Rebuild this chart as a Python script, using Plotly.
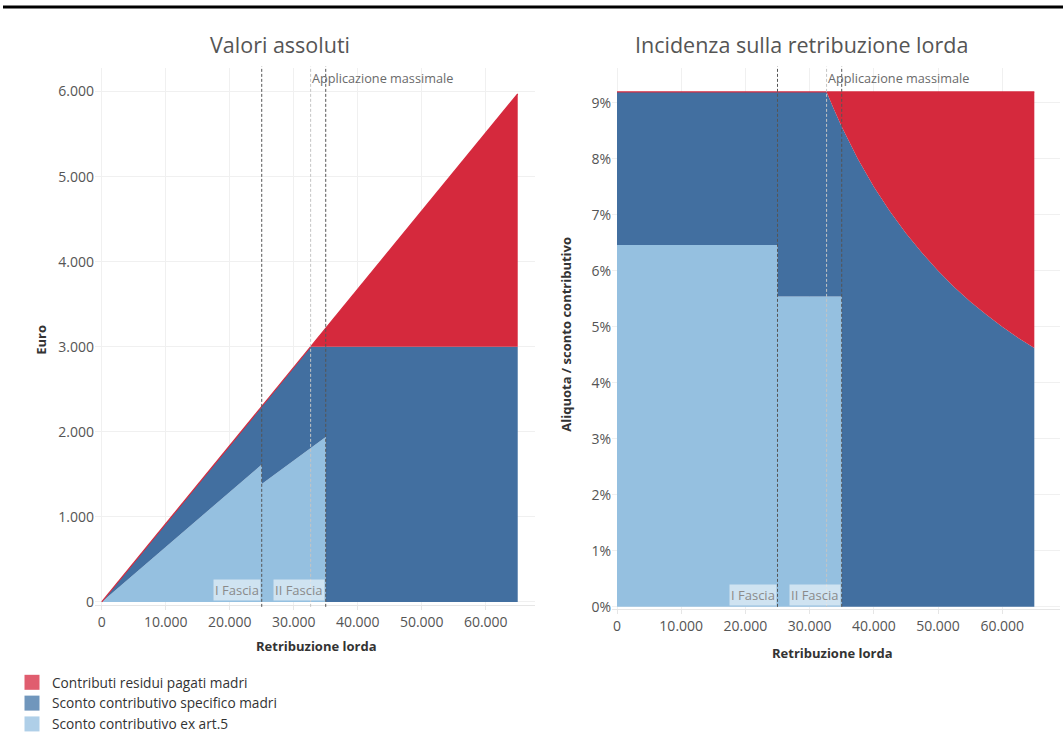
import numpy as np
import plotly.graph_objects as go

# soglie (retribuzione lorda)
FASCE = [25000, 35000]
MASSIMALE = 32644

# Valori assoluti (euro)
x_abs = [0, 25000, 25000, 32644, 35000, 35000, 65000]
art5_abs = [0, 1615, 1385, 1808, 1939, 0, 0]
madri_abs = [0, 683, 913, 1192, 1061, 3000, 3000]
residui_abs = [0, 0, 0, 0, 216, 216, 2974]

# Incidenza sulla retribuzione lorda (%)
x_rel = [0, 25000, 25000, 32644, 33750, 35000, 35000, 37500, 40000, 42500,
         45000, 47500, 50000, 52500, 55000, 57500, 60000, 62500, 65000]
art5_rel = [6.46, 6.46, 5.54, 5.54, 5.54, 5.54, 0, 0, 0, 0,
            0, 0, 0, 0, 0, 0, 0, 0, 0]
madri_rel = [2.73, 2.73, 3.65, 3.65, 3.35, 3.03, 8.57, 8.00, 7.50, 7.06,
             6.67, 6.32, 6.00, 5.71, 5.45, 5.22, 5.00, 4.80, 4.62]
residui_rel = [0, 0, 0, 0, 0.30, 0.62, 0.62, 1.19, 1.69, 2.13,
               2.52, 2.87, 3.19, 3.48, 3.74, 3.97, 4.19, 4.39, 4.57]

SERIES = ['Contributi residui pagati madri', 'Sconto contributivo specifico madri',
          'Sconto contributivo ex art.5']
COLORS = {'red': '#D5293D', 'blue': '#426FA0', 'light': '#95C0E0'}
LEGEND_COLORS = ['#E05D6F', '#7096BC', '#AFCFE8']

FONT = 'Open Sans'
W, H = 1063, 746


def px_x(x):
    return x / W


def px_y(y):
    # small vertical calibration, positions came out ~1% too high at the bottom
    y = 45 + (y - 45) * 1.01
    return (H - y) / H


fig = go.Figure()


def add_stack(x, art5, madri, residui, xa, ya):
    # cumulate by hand, the x values have duplicates at the steps
    c1 = np.array(art5, dtype=float)
    c2 = c1 + np.array(madri)
    c3 = c2 + np.array(residui)
    fig.add_trace(go.Scatter(x=x, y=c1, mode='lines', line=dict(width=0), fill='tozeroy',
                             fillcolor=COLORS['light'], xaxis=xa, yaxis=ya,
                             showlegend=False, name=SERIES[2]))
    fig.add_trace(go.Scatter(x=x, y=c2, mode='lines', line=dict(width=0), fill='tonexty',
                             fillcolor=COLORS['blue'], xaxis=xa, yaxis=ya,
                             showlegend=False, name=SERIES[1]))
    fig.add_trace(go.Scatter(x=x, y=c3, mode='lines', line=dict(width=1.2, color=COLORS['red']),
                             fill='tonexty', fillcolor=COLORS['red'], xaxis=xa, yaxis=ya,
                             showlegend=False, name=SERIES[0]))


add_stack(x_abs, art5_abs, madri_abs, residui_abs, 'x', 'y')
add_stack(x_rel, art5_rel, madri_rel, residui_rel, 'x2', 'y2')

# legend entries (square swatches)
for name, col in zip(SERIES, LEGEND_COLORS):
    fig.add_trace(go.Scatter(x=[None], y=[None], mode='markers', name=name,
                             marker=dict(symbol='square', size=15, color=col)))

# vertical reference lines
for xa in ['x', 'x2']:
    for f in FASCE:
        fig.add_shape(type='line', xref=xa, yref='paper', x0=f, x1=f,
                      y0=px_y(607), y1=px_y(67),
                      line=dict(color='#555555', width=1, dash='3px,2px'))
    fig.add_shape(type='line', xref=xa, yref='paper', x0=MASSIMALE, x1=MASSIMALE,
                  y0=px_y(607), y1=px_y(67), line=dict(color='#c4c4c4', width=1, dash='3px,2px'))
    fig.add_annotation(x=MASSIMALE, xref=xa, y=px_y(78), yref='paper',
                       text='Applicazione massimale', showarrow=False, xanchor='left',
                       yanchor='middle', xshift=-1,
                       font=dict(size=12.7, color='#6a6a6a', family=FONT))

# fascia labels
for xa, ya in [('x', 'y'), ('x2', 'y2')]:
    for f, lab in zip(FASCE, ['I Fascia', 'II Fascia']):
        fig.add_annotation(x=f, xref=xa, y=0, yref=ya, text=lab, showarrow=False,
                           xanchor='right', yanchor='bottom', xshift=-1, yshift=1,
                           bgcolor='rgba(255,255,255,0.55)', borderpad=1,
                           font=dict(size=13, color='#8a8a8a', family=FONT))

axis_common = dict(showgrid=True, gridcolor='#f0f0f0', zeroline=False,
                   tickfont=dict(size=14, color='#555555', family=FONT))

fig.update_layout(
    width=W, height=H,
    margin=dict(l=0, r=0, t=0, b=0),
    plot_bgcolor='white', paper_bgcolor='white',
    separators=',.',
    font=dict(family=FONT, color='#555555'),
    showlegend=True,
    legend=dict(x=px_x(12), y=px_y(667), xanchor='left', yanchor='top',
                traceorder='normal',
                font=dict(size=13.7, color='#333333', family=FONT),
                itemwidth=30, tracegroupgap=0, bgcolor='rgba(0,0,0,0)'),
    xaxis=dict(domain=[px_x(95), px_x(535)], range=[-1050, 67700], dtick=10000,
               tickformat=',d', anchor='y', showline=True, linecolor='#e6e6e6',
               ticks='outside', ticklen=4, tickcolor='#e6e6e6', **axis_common),
    yaxis=dict(domain=[px_y(605), px_y(68)], range=[-35, 6282], dtick=1000,
               tickformat=',d', anchor='x', **axis_common),
    xaxis2=dict(domain=[px_x(612), px_x(1060)], range=[-780, 69000], dtick=10000,
                tickformat=',d', anchor='y2', showline=True, linecolor='#e6e6e6',
                ticks='outside', ticklen=4, tickcolor='#e6e6e6', **axis_common),
    yaxis2=dict(domain=[px_y(609), px_y(68)], range=[-0.036, 9.625], dtick=1,
                ticksuffix='%', anchor='x2', **axis_common),
)

# titles and axis titles
texts = [
    ('Valori assoluti', 280, 45, 21.5, '#555555', 0, False),
    ('Incidenza sulla retribuzione lorda', 801, 45, 21.5, '#555555', 0, False),
    ('Euro', 41, 340, 13, '#333333', -90, True),
    ('Aliquota / sconto contributivo', 566, 335, 13, '#333333', -90, True),
    ('Retribuzione lorda', 316, 646, 13, '#333333', 0, True),
    ('Retribuzione lorda', 832, 653, 13, '#333333', 0, True),
]
for t, x_, y_, size, col, ang, bold in texts:
    fig.add_annotation(x=px_x(x_), y=px_y(y_), xref='paper', yref='paper',
                       text=f'<b>{t}</b>' if bold else t, showarrow=False,
                       textangle=ang, xanchor='center', yanchor='middle',
                       font=dict(size=size, color=col, family=FONT))

# black rule at the top
fig.add_shape(type='line', xref='paper', yref='paper', x0=px_x(3), x1=1,
              y0=(H - 7) / H, y1=(H - 7) / H, line=dict(color='black', width=3))

# the page body has a default 8px margin: drop it so the figure sits at 0,0
fig.write_html('out.html', config={'displayModeBar': False},
               post_script="document.documentElement.style.overflow='hidden';"
                           "document.body.style.margin='0';"
                           "document.body.style.overflow='hidden';")
